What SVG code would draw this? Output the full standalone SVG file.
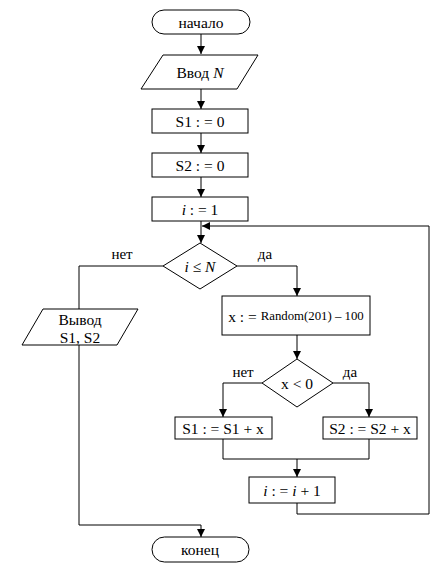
<svg xmlns="http://www.w3.org/2000/svg" width="442" height="578" viewBox="0 0 442 578" font-family="'Liberation Serif', 'Times New Roman', 'DejaVu Serif', serif">
<defs>
<marker id="ah" viewBox="0 0 10 10" refX="10" refY="5" markerWidth="8" markerHeight="8" markerUnits="userSpaceOnUse" orient="auto"><path d="M0,0 L10,5 L0,10 Z" fill="#000"/></marker>
</defs>
<style>
.s{fill:#fff;stroke:#000;stroke-width:1}
.t{font-family:'Liberation Serif','Times New Roman','DejaVu Serif',serif;font-size:15.5px;fill:#000;text-anchor:middle;dominant-baseline:central}
.l{font-family:'Liberation Serif','Times New Roman','DejaVu Serif',serif;font-size:15px;fill:#000;text-anchor:middle}
.c{fill:none;stroke:#000;stroke-width:1}
.a{marker-end:url(#ah)}
</style>
<rect width="442" height="578" fill="#fff"/>
<g id="connectors">
<path class="c a" d="M201,34 V54"/>
<path class="c a" d="M201,89 V109"/>
<path class="c a" d="M201,133 V153"/>
<path class="c a" d="M201,177 V197"/>
<path class="c a" d="M201,221 V243"/>
<path class="c" d="M163,266 H79 V309"/>
<path class="c a" d="M237,266 H297 V296"/>
<path class="c a" d="M297,335 V359"/>
<path class="c a" d="M262,383 H223 V417"/>
<path class="c a" d="M333,383 H369 V417"/>
<path class="c" d="M223,439 V459 H369 V439"/>
<path class="c a" d="M297,459 V477"/>
<path class="c a" d="M297,503 V514 H429 V226 H202"/>
<path class="c a" d="M79,345 V525 H201 V537"/>
<text class="l" x="122" y="259">нет</text>
<text class="l" x="265" y="259">да</text>
<text class="l" x="243" y="377">нет</text>
<text class="l" x="350" y="377">да</text>
</g>
<g id="start"><rect class="s" x="152" y="10" width="98" height="24" rx="12"/><text class="t" x="201" y="22">начало</text></g>
<g id="input"><polygon class="s" points="163,55 258,55 237,89 141,89"/><text class="t" x="200" y="72">Ввод <tspan font-style="italic">N</tspan></text></g>
<g id="s1init"><rect class="s" x="152" y="109" width="96" height="24"/><text class="t" x="200" y="121">S1 : = 0</text></g>
<g id="s2init"><rect class="s" x="152" y="153" width="96" height="24"/><text class="t" x="200" y="165">S2 : = 0</text></g>
<g id="iinit"><rect class="s" x="152" y="197" width="96" height="24"/><text class="t" x="200" y="209"><tspan font-style="italic">i</tspan> : = 1</text></g>
<g id="cond1"><polygon class="s" points="200,243 237,266 200,289 163,266"/><text class="t" x="200" y="266"><tspan font-style="italic">i</tspan> ≤ <tspan font-style="italic">N</tspan></text></g>
<g id="output"><polygon class="s" points="43,309 138,309 117,345 22,345"/><text class="t" x="80" y="319">Вывод</text><text class="t" x="80" y="337">S1, S2</text></g>
<g id="rand"><rect class="s" x="222" y="296" width="148" height="39"/><text class="t" x="296" y="316">x : = <tspan style="font-size:12.8px">Random(201) – 100</tspan></text></g>
<g id="cond2"><polygon class="s" points="297,359 333,383 297,407 262,383"/><text class="t" x="297" y="383">x &lt; 0</text></g>
<g id="s1add"><rect class="s" x="175" y="417" width="97" height="22"/><text class="t" x="223" y="428">S1 : = S1 + x</text></g>
<g id="s2add"><rect class="s" x="323" y="417" width="94" height="22"/><text class="t" x="370" y="428">S2 : = S2 + x</text></g>
<g id="iinc"><rect class="s" x="249" y="477" width="86" height="26"/><text class="t" x="292" y="490"><tspan font-style="italic">i</tspan> : = <tspan font-style="italic">i</tspan> + 1</text></g>
<g id="end"><rect class="s" x="152" y="537" width="97" height="25" rx="12.5"/><text class="t" x="200" y="549">конец</text></g>
</svg>
